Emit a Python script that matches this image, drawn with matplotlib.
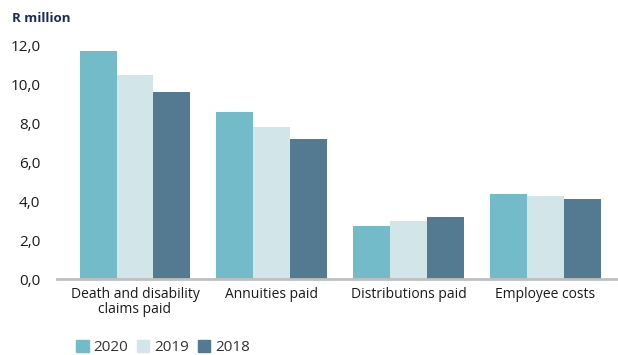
import numpy as np
import matplotlib.pyplot as plt
from matplotlib.patches import Patch

plt.rcParams['font.family'] = ['Open Sans', 'DejaVu Sans']

### data
categories = ['Death and disability\nclaims paid', 'Annuities paid', 'Distributions paid', 'Employee costs']
years = ['2020', '2019', '2018']
v2020 = [11.72, 8.59, 2.72, 4.37]
v2019 = [10.49, 7.81, 2.98, 4.27]
v2018 = [9.61, 7.20, 3.19, 4.11]
yticks = [0, 2, 4, 6, 8, 10, 12]

colors = ['#74BBC9', '#D2E5E9', '#537A91']
series = [v2020, v2019, v2018]

fig = plt.figure(figsize=(6.18, 3.55), dpi=100)
ax = fig.add_axes([57/618, 0.214, 1 - 57/618, 0.6575])

x = np.arange(len(categories))
w = 0.27
for i, (vals, c) in enumerate(zip(series, colors)):
    ax.bar(x + (i - 1) * w, vals, width=w, color=c, clip_on=False, zorder=2)

ax.set_xlim(-0.57, 3.53)
ax.set_ylim(0, 12)
ax.set_yticks(yticks)
ax.set_yticklabels([f'{t:.1f}'.replace('.', ',') for t in yticks])
ax.set_xticks(x)
ax.set_xticklabels(categories, linespacing=1.0)

for s in ['top', 'right', 'left']:
    ax.spines[s].set_visible(False)
ax.spines['bottom'].set_color('#BFBFBF')
ax.spines['bottom'].set_linewidth(2)
ax.spines['bottom'].set_zorder(3)
ax.tick_params(axis='both', length=0, colors='#1a1a1a', labelsize=10)
ax.tick_params(axis='y', pad=12, labelsize=11)
ax.tick_params(axis='x', pad=6)

fig.text(12/618, 1 - 18/355, 'R million', fontsize=9.5, fontweight='bold',
         color='#1B2A5C', va='center', ha='left')

handles = [Patch(color=c) for c in colors]
fig.legend(handles, years, loc='center', bbox_to_anchor=(163/618, 7.5/355),
           ncol=3, frameon=False, fontsize=11, handlelength=0.8, handleheight=0.8,
           handletextpad=0.3, columnspacing=0.6, labelcolor='#333333')

fig.savefig('out.png', dpi=100)
